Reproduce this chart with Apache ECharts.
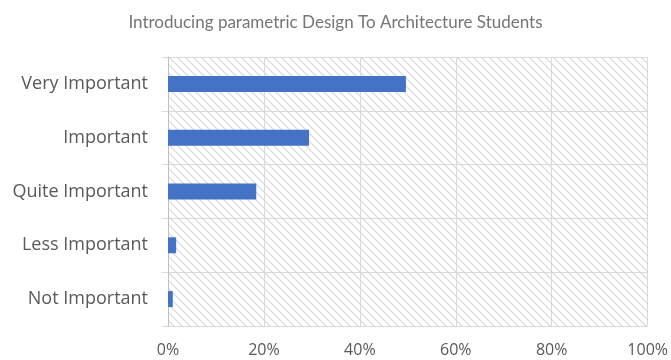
<!DOCTYPE html>
<html>
<head>
<meta charset="utf-8">
<script src="https://cdn.jsdelivr.net/npm/echarts@6/dist/echarts.min.js"></script>
<style>html,body{margin:0;padding:0;background:#fff;}#c{width:671px;height:360px;}</style>
</head>
<body>
<div id="c"></div>
<script>
const titleText = 'Introducing parametric Design To Architecture Students';
const categories = ['Very Important', 'Important', 'Quite Important', 'Less Important', 'Not Important'];
const values = [49.6, 29.4, 18.4, 1.7, 1.0];
const xTicks = [0, 20, 40, 60, 80, 100];

function makeHatch() {
  const s = 8;
  const cv = document.createElement('canvas');
  cv.width = s; cv.height = s;
  const ctx = cv.getContext('2d');
  ctx.fillStyle = '#ffffff';
  ctx.fillRect(0, 0, s, s);
  ctx.strokeStyle = '#dedede';
  ctx.lineWidth = 1.4;
  ctx.beginPath();
  ctx.moveTo(-2, -2); ctx.lineTo(s + 2, s + 2);
  ctx.moveTo(-2 - s, -2); ctx.lineTo(2, s + 2);
  ctx.moveTo(s - 2, -2); ctx.lineTo(2 * s + 2, s + 2);
  ctx.stroke();
  return cv;
}

const chart = echarts.init(document.getElementById('c'), null, {renderer: 'canvas'});
chart.setOption({
  animation: false,
  title: {
    text: titleText,
    left: 'center',
    top: 9,
    textStyle: {fontFamily: 'Lato', fontSize: 17, fontWeight: 'normal', color: '#757575'}
  },
  grid: {
    left: 168, right: 23, top: 57, bottom: 34,
    show: true,
    borderWidth: 0,
    backgroundColor: {image: makeHatch(), repeat: 'repeat'}
  },
  xAxis: {
    type: 'value',
    min: 0, max: 100, interval: 20,
    axisLine: {show: false},
    axisTick: {show: false},
    splitLine: {show: true, lineStyle: {color: '#d9d9d9', width: 1}},
    axisLabel: {
      formatter: v => xTicks.includes(v) ? v + '%' : '',
      fontFamily: 'Open Sans', fontSize: 16, color: '#595959', margin: 16
    }
  },
  yAxis: {
    type: 'category',
    data: categories,
    inverse: true,
    axisLine: {show: true, lineStyle: {color: '#bfbfbf', width: 1}},
    axisTick: {show: true, length: 6, lineStyle: {color: '#d9d9d9'}},
    splitLine: {show: true, lineStyle: {color: '#d9d9d9', width: 1}},
    axisLabel: {fontFamily: 'Open Sans', fontSize: 18, color: '#595959', margin: 20}
  },
  series: [{
    type: 'bar',
    data: values,
    barWidth: 16,
    itemStyle: {color: '#4472c4'}
  }]
});
</script>
</body>
</html>
